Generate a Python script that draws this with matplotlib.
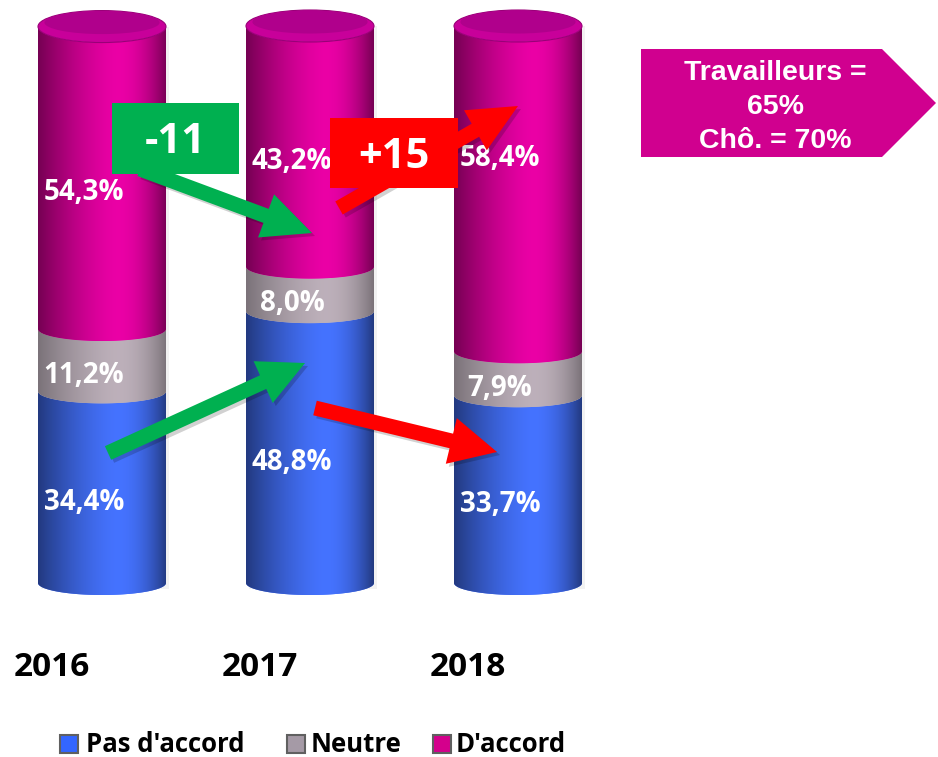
import numpy as np
import matplotlib
matplotlib.use('Agg')
import matplotlib.pyplot as plt
from matplotlib.patches import Polygon, Ellipse, Rectangle

# ---------------- data ----------------
years = ['2016', '2017', '2018']
series_names = ["Pas d'accord", 'Neutre', "D'accord"]
pas_accord = [34.4, 48.8, 33.7]
neutre = [11.2, 8.0, 7.9]
accord = [54.3, 43.2, 58.4]
change_labels = ['-11', '+15']
callout_lines = ['Travailleurs =', '65%', 'Chô. = 70%']

# ---------------- layout ----------------
W, H = 938, 757
fig = plt.figure(figsize=(W / 100, H / 100), dpi=100)
fig.patch.set_facecolor('white')
ax = fig.add_axes([0, 0, 1, 1])
PX0, PXS = 102, 208     # pixel x of first bar centre, pixels per category
PY0, PYS = 583, 5.57    # pixel y of 0 %, pixels per percent
ax.set_xlim((0 - PX0) / PXS, (W - PX0) / PXS)
ax.set_ylim((PY0 - H) / PYS, PY0 / PYS)
ax.axis('off')

BAR_W = 128 / PXS
ARC_H = 12 / PYS
TOP_H = 16 / PYS

base_cols = [np.array([0.27, 0.45, 1.00]),
             np.array([0.74, 0.69, 0.73]),
             np.array([0.92, 0.00, 0.65])]
depths = [0.50, 0.35, 0.50]

t = np.linspace(0, 1, 256)
peak = 0.62
g = np.where(t < peak, ((peak - t) / peak) ** 1.5, ((t - peak) / (1 - peak)) ** 2)


def fp(x, y):
    return (x / W, 1 - y / H)


def seg_polygon(cx, y0, y1, hb, ht):
    th = np.linspace(np.pi, 2 * np.pi, 80)
    xs_b = cx + BAR_W / 2 * np.cos(th)
    ys_b = y0 + hb * np.sin(th)
    th2 = np.linspace(2 * np.pi, np.pi, 80)
    xs_t = cx + BAR_W / 2 * np.cos(th2)
    ys_t = y1 + ht * np.sin(th2)
    return np.column_stack([np.concatenate([xs_b, xs_t]),
                            np.concatenate([ys_b, ys_t])])


stack = [pas_accord, neutre, accord]
for i, yr in enumerate(years):
    cx = i
    bottom = 0.0
    total = sum(s[i] for s in stack)
    sh = Rectangle((cx - BAR_W / 2 + 3 / PXS, -ARC_H * 0.5), BAR_W, total + ARC_H * 0.5,
                   facecolor='#000000', alpha=0.05, edgecolor='none', zorder=1)
    ax.add_patch(sh)
    for k, s in enumerate(stack):
        y0, y1 = bottom, bottom + s[i]
        is_top = k == len(stack) - 1
        poly = Polygon(seg_polygon(cx, y0, y1, ARC_H, TOP_H if is_top else ARC_H),
                       closed=True, facecolor=base_cols[k], edgecolor='none', zorder=2)
        ax.add_patch(poly)
        f = 1 - depths[k] * g
        img = (base_cols[k][None, :] * f[:, None])[None, :, :]
        im = ax.imshow(img, extent=[cx - BAR_W / 2, cx + BAR_W / 2, y0 - 5, y1 + 5],
                       aspect='auto', interpolation='bilinear', zorder=3)
        im.set_clip_path(poly)
        bottom = y1
    # top cap
    ax.add_patch(Ellipse((cx, bottom), BAR_W, 2 * TOP_H, facecolor='#C8009A',
                         edgecolor='#9A0078', lw=0.8, zorder=4))
    ax.add_patch(Ellipse((cx, bottom + 0.25 * TOP_H), BAR_W * 0.9, 2 * TOP_H * 0.72,
                         facecolor='#B0008C', edgecolor='none', zorder=4))
    ax.set_aspect('auto')

# value labels
label_shift = {(2, 2): 8.1}
for i in range(len(years)):
    bottom = 0.0
    for k, s in enumerate(stack):
        mid = bottom + s[i] / 2 - 15 / PYS + label_shift.get((i, k), 0)
        txt = f"{s[i]:.1f}".replace('.', ',') + '%'
        ax.text(i - 18 / PXS, mid, txt, color='white', fontsize=20,
                fontweight='bold', family='Open Sans', ha='center', va='center',
                zorder=6)
        bottom += s[i]

# year labels
for i, yr in enumerate(years):
    ax.text(i - 50 / PXS, (PY0 - 667) / PYS, yr, fontsize=24, fontweight='bold',
            family='Open Sans', ha='center', va='center', color='black')


# arrows (annotation shapes, figure pixel space)
def arrow(tail, tip, sw, hw, hl, color):
    tail = np.array(tail, float)
    tip = np.array(tip, float)
    u = (tip - tail) / np.linalg.norm(tip - tail)
    n = np.array([-u[1], u[0]])
    neck = tip - u * hl
    pts = [tail + n * sw / 2, neck + n * sw / 2, neck + n * hw / 2, tip,
           neck - n * hw / 2, neck - n * sw / 2, tail - n * sw / 2]
    shadow = [fp(p[0] + 3, p[1] + 3) for p in pts]
    fig.patches.append(Polygon(shadow, closed=True, transform=fig.transFigure,
                               facecolor='#000000', alpha=0.18, edgecolor='none',
                               zorder=7))
    fig.patches.append(Polygon([fp(*p) for p in pts], closed=True,
                               transform=fig.transFigure, facecolor=color,
                               edgecolor='none', zorder=8))


GREEN, RED = '#00B050', '#FF0000'
arrow((108, 453), (305, 363), 15, 46, 46, GREEN)
arrow((140, 169), (312, 233), 15, 46, 49, GREEN)
arrow((339, 208), (518, 106), 15, 46, 49, RED)
arrow((315, 408), (497, 452), 15, 47, 47, RED)


def box(x0, y0, x1, y1, color, label):
    fig.patches.append(Rectangle(fp(x0, y1), (x1 - x0) / W, (y1 - y0) / H,
                                 transform=fig.transFigure, facecolor=color,
                                 edgecolor='none', zorder=9))
    cx, cy = fp((x0 + x1) / 2, (y0 + y1) / 2 + 4)
    fig.text(cx, cy, label, color='white', fontsize=30, fontweight='bold',
             family='Open Sans', ha='center', va='center', zorder=10)


box(112, 103, 239, 174, GREEN, change_labels[0])
box(330, 118, 458, 188, RED, change_labels[1])

# callout pentagon
pent = [(641, 49), (882, 49), (936, 103), (882, 157), (641, 157)]
fig.patches.append(Polygon([fp(*p) for p in pent], closed=True,
                           transform=fig.transFigure, facecolor='#D0008F',
                           edgecolor='none', zorder=9))
for j, line in enumerate(callout_lines):
    x, y = fp(775, 73 + 34 * j)
    fig.text(x, y, line, color='white', fontsize=20.5, fontweight='bold',
             family='Liberation Sans', ha='center', va='center', zorder=10)

# legend
leg_sq_x = [60, 287, 433]
leg_tx_x = [86, 311, 456]
leg_cols = ['#3366FF', '#A59AA6', '#D4008C']
for k, name in enumerate(series_names):
    fig.patches.append(Rectangle(fp(leg_sq_x[k], 753), 18 / W, 18 / H,
                                 transform=fig.transFigure, facecolor=leg_cols[k],
                                 edgecolor='#606060', lw=1.5, zorder=9))
    x, y = fp(leg_tx_x[k], 744)
    fig.text(x, y, name, fontsize=18.5, fontweight='bold', family='Open Sans',
             ha='left', va='center', color='black')

fig.savefig('out.png', dpi=100, facecolor='white')
